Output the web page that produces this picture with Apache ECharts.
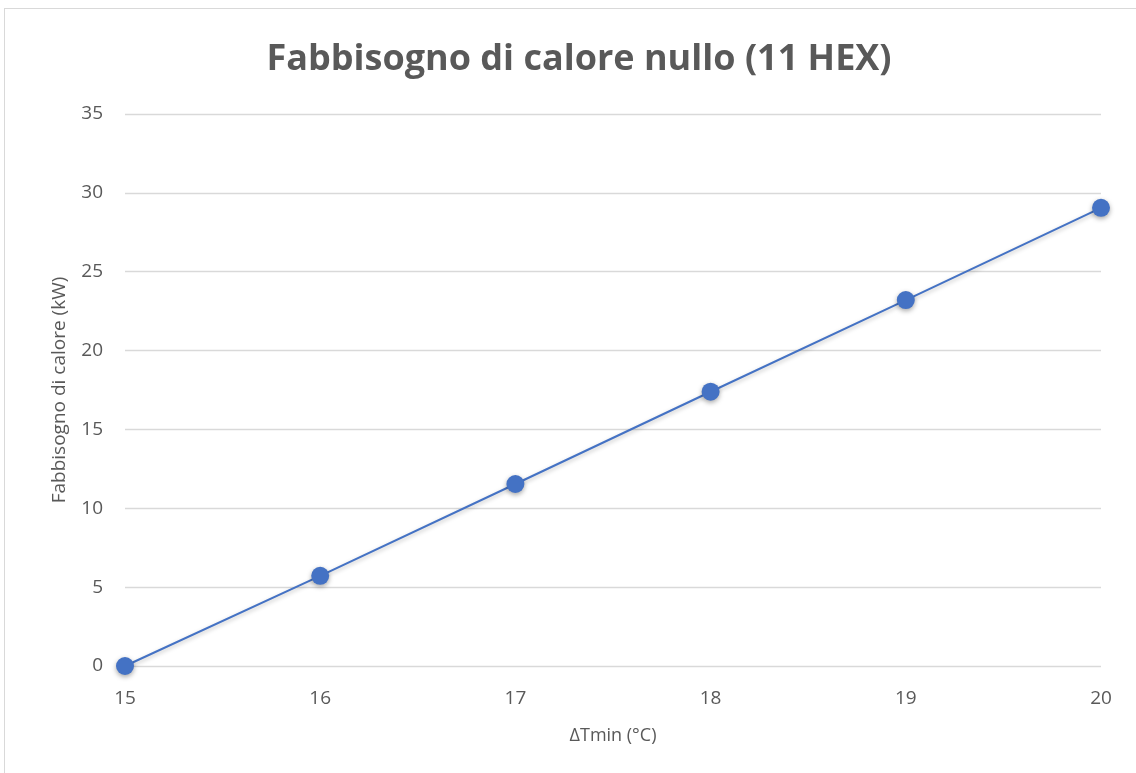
<!DOCTYPE html>
<html><head><meta charset="utf-8">
<script src="https://cdn.jsdelivr.net/npm/echarts@6/dist/echarts.min.js"></script>
<style>html,body{margin:0;padding:0;background:#fff}#c{width:1136px;height:773px;}
#frame{position:absolute;left:4px;top:8px;width:1140px;height:780px;border:1px solid #d9d9d9;box-sizing:border-box;pointer-events:none}</style>
</head><body><div id="c"></div><div id="frame"></div>
<script>
const xValues = [15, 16, 17, 18, 19, 20];
const yValues = [0, 5.72, 11.54, 17.39, 23.2, 29.05];
const titleText = 'Fabbisogno di calore nullo (11 HEX)';
const xName = 'ΔTmin (°C)';
const yName = 'Fabbisogno di calore (kW)';

const chart = echarts.init(document.getElementById('c'));
const font = 'Open Sans';
chart.setOption({
  animation: false,
  title: {text: titleText, left: 574, top: 37, textAlign: 'center',
    textStyle: {fontFamily: font, fontWeight: 'bold', fontSize: 36, color: '#595959'}},
  grid: {left: 125, right: 35, top: 114, bottom: 107},
  xAxis: {type: 'value', min: 15, max: 20, interval: 1,
    name: xName, nameLocation: 'middle', nameGap: 61,
    nameTextStyle: {fontFamily: font, fontSize: 18, color: '#595959'},
    axisLine: {show: false}, axisTick: {show: false}, splitLine: {show: false},
    axisLabel: {fontFamily: font, fontSize: 19, color: '#595959', margin: 23}},
  yAxis: {type: 'value', min: 0, max: 35, interval: 5,
    name: yName, nameLocation: 'middle', nameGap: 56,
    nameTextStyle: {fontFamily: font, fontSize: 19, color: '#595959'},
    axisLine: {show: false}, axisTick: {show: false},
    splitLine: {lineStyle: {color: '#d9d9d9', width: 1.3}},
    axisLabel: {fontFamily: font, fontSize: 19, color: '#595959', margin: 22}},
  series: [{type: 'line', data: xValues.map((x, i) => [x, yValues[i]]),
    symbol: 'circle', symbolSize: 18,
    lineStyle: {color: '#4472C4', width: 2, shadowColor: 'rgba(0,0,0,0.25)', shadowBlur: 4, shadowOffsetY: 2},
    itemStyle: {color: '#4472C4', shadowColor: 'rgba(0,0,0,0.35)', shadowBlur: 5, shadowOffsetY: 2}}]
});
</script></body></html>
